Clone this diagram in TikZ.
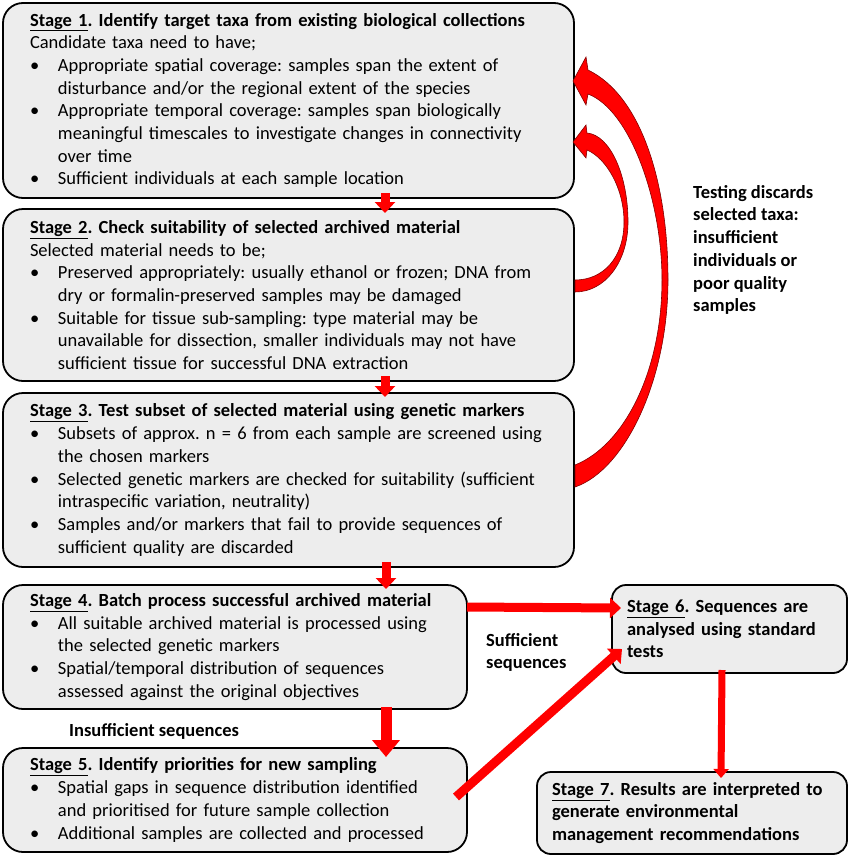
\documentclass[tikz,border=0pt]{standalone}
\usepackage{fontspec}
\setmainfont{Carlito}
\usetikzlibrary{arrows.meta}
\usetikzlibrary{positioning}
\setlength{\parindent}{0pt}
\frenchspacing
\definecolor{boxgrey}{RGB}{237,237,237}
\definecolor{flowred}{RGB}{255,0,0}
\definecolor{edgered}{RGB}{130,0,0}
\newcommand{\stagefont}{\fontsize{18.5pt}{22.7pt}\selectfont}
% bullet line with hanging indent
\newcommand{\stagebullet}{\par\hangindent=28pt\hangafter=1\makebox[28pt][l]{\textbullet}}
\tikzset {
  stage node/.style = {
    draw = black,
    line width = 1.8pt,
    fill = boxgrey,
    anchor = north west,
    outer sep = 0pt,
    inner ysep = 0pt,
    align = left,
    font = \stagefont
  },
  % stages 1 to 3
  wide stage/.style = {
    stage node,
    rounded corners = 20pt,
    inner xsep = 27pt,
    text width = 517pt,
    minimum height = #1
  },
  % stages 4 and 5
  mid stage/.style = {
    stage node,
    rounded corners = 20pt,
    inner xsep = 27pt,
    text width = 410pt,
    minimum height = #1
  },
  % stages 6 and 7
  small stage/.style = {
    stage node,
    rounded corners = 14pt,
    inner xsep = 15pt,
    text width = #1,
    font = \stagefont\bfseries
  },
  % free text beside the arrows
  note/.style = {
    anchor = north west,
    inner sep = 0pt,
    align = left,
    font = \stagefont\bfseries
  }
}
\tikzset {
  flow/.style = {
    draw = flowred,
    line width = 9pt,
    -{Triangle[width=20pt,length=11pt]}
  },
  wide flow/.style = {
    draw = flowred,
    line width = 11pt,
    -{Triangle[width=27pt,length=17pt]}
  },
  thin flow/.style = {
    draw = flowred,
    line width = 7pt,
    -{Triangle[width=15pt,length=9pt]}
  },
  % curved arrows going back to stage 1
  back arrow/.style = {
    fill = flowred,
    draw = edgered,
    line width = 0.6pt
  }
}

\begin{document}
\begin{tikzpicture}[x=1pt, y=-1pt]
    \useasboundingbox (0,0) rectangle (852,857);

    \node[wide stage=195pt] (stage-1) at (3,3) {%
      \textbf{\underline{Stage 1}. Identify target taxa from existing biological collections}\par
      Candidate taxa need to have;
      \stagebullet Appropriate spatial coverage: samples span the extent of\newline disturbance and/or the regional extent of the species
      \stagebullet Appropriate temporal coverage: samples span biologically\newline meaningful timescales to investigate changes in connectivity\newline over time
      \stagebullet Sufficient individuals at each sample location\par};
    \node[wide stage=172pt] (stage-2) [below=11pt of stage-1.south west, anchor=north west] {%
      \textbf{\underline{Stage 2}. Check suitability of selected archived material}\par
      Selected material needs to be;
      \stagebullet Preserved appropriately: usually ethanol or frozen; DNA from\newline dry or formalin-preserved samples may be damaged
      \stagebullet Suitable for tissue sub-sampling: type material may be\newline unavailable for dissection, smaller individuals may not have\newline sufficient tissue for successful DNA extraction\par};
    \node[wide stage=174pt] (stage-3) [below=12pt of stage-2.south west, anchor=north west] {%
      \textbf{\underline{Stage 3}. Test subset of selected material using genetic markers}
      \stagebullet Subsets of approx. n = 6 from each sample are screened using\newline the chosen markers
      \stagebullet Selected genetic markers are checked for suitability (sufficient\newline intraspecific variation, neutrality)
      \stagebullet Samples and/or markers that fail to provide sequences of\newline sufficient quality are discarded\par};
    \node[mid stage=124pt] (stage-4) [below=18pt of stage-3.south west, anchor=north west] {%
      \textbf{\underline{Stage 4}. Batch process successful archived material}
      \stagebullet All suitable archived material is processed using\newline the selected genetic markers
      \stagebullet Spatial/temporal distribution of sequences\newline assessed against the original objectives\par};
    \node[mid stage=104pt] (stage-5) [below=39pt of stage-4.south west, anchor=north west] {%
      \textbf{\underline{Stage 5}. Identify priorities for new sampling}
      \stagebullet Spatial gaps in sequence distribution identified\newline and prioritised for future sample collection
      \stagebullet Additional samples are collected and processed\par};
    \node[small stage=205pt, minimum height=88pt] (stage-6) [right=145pt of stage-4.north east, anchor=north west] {%
      \underline{Stage 6}. Sequences are\\ analysed using standard\\ tests};
    \node[small stage=280pt, minimum height=82pt] (stage-7) [below=99pt of stage-6.south east, anchor=north east] {%
      \underline{Stage 7}. Results are interpreted to\\ generate environmental\\ management recommendations};

    \node[note] (discards) at (693,185) {Testing discards\\ selected taxa:\\ insufficient\\ individuals or\\ poor quality\\ samples};
    \node[note] (enough) at (486,633) {Sufficient\\ sequences};
    \node[note] (too-few) at (69,723) {Insufficient sequences};

    \draw[flow] ([xshift=96.5pt,yshift=5pt]stage-1.south) -- ([xshift=96.5pt,yshift=-4pt]stage-2.north);
    \draw[flow] ([xshift=96.5pt,yshift=5pt]stage-2.south) -- ([xshift=96.5pt,yshift=-4pt]stage-3.north);
    \draw[flow] ([xshift=97.5pt,yshift=5pt]stage-3.south) -- ([xshift=151pt,yshift=-4pt]stage-4.north);
    \draw[wide flow] ([xshift=151pt,yshift=2pt]stage-4.south) -- ([xshift=151pt,yshift=-9pt]stage-5.north);
    \draw[flow] ([yshift=40pt]stage-4.east) -- ([xshift=9pt,yshift=21pt]stage-6.west);
    \draw[flow] ([xshift=-11pt,yshift=3pt]stage-5.east) -- ([xshift=10pt,yshift=-20pt]stage-6.west);
    \draw[thin flow] ([xshift=-7.5pt,yshift=3pt]stage-6.south) -- ([xshift=29pt,yshift=-6pt]stage-7.north);

    % stage 3 back to stage 1
    \filldraw[back arrow] (575,487) .. controls (625,470) and (668,380) .. (668,280)
      .. controls (668,180) and (640,95) .. (588,70)
      -- (586,57) -- (573,81) -- (586,105) -- (588,94)
      .. controls (630,110) and (662,200) .. (662,280)
      .. controls (662,370) and (625,445) .. (575,465) -- cycle;
    % stage 2 back to stage 1
    \filldraw[back arrow] (575,292) .. controls (605,292) and (628,262) .. (628,222)
      .. controls (628,175) and (610,135) .. (587,133)
      -- (586,125) -- (573,142) -- (586,158) -- (587,150)
      .. controls (606,158) and (624,188) .. (624,222)
      .. controls (624,258) and (603,280) .. (575,280) -- cycle;
  \end{tikzpicture}
\end{document}
